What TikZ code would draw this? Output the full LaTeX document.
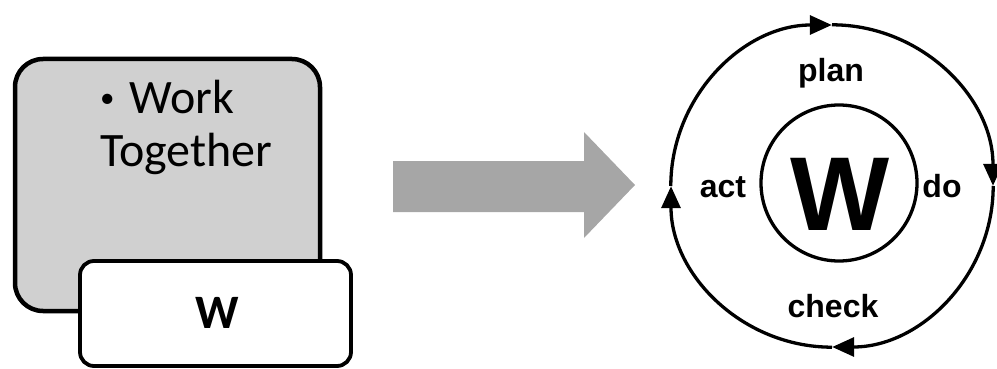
\documentclass[tikz,border=0pt]{standalone}
\usepackage{fontspec}
\usepackage{tikz}
\usetikzlibrary{arrows.meta,positioning,calc}
\newfontfamily\carlito{Carlito}
\newfontfamily\arialsans{Liberation Sans}
\definecolor{boxgray}{HTML}{D0D0D0}
\definecolor{arrowgray}{HTML}{A6A6A6}

\begin{document}
\begin{tikzpicture}[x=1pt,y=1pt,
    cardbox/.style={draw, rounded corners=28pt, inner sep=0pt},
    cyclearc/.style={line width=3.3pt, -{Triangle[length=22pt,width=19pt]}},
    cyclelabel/.style={anchor=base, inner sep=0pt, font=\arialsans\bfseries\fontsize{32}{38}\selectfont}]
        \useasboundingbox (0,0) rectangle (997,-369);
        % left card with the tab on top of it
        \node[cardbox, fill=boxgray, line width=4.5pt, minimum width=305pt, minimum height=252pt] (card) at (167.5,-185) {};
        \node[anchor=north west, inner sep=0pt, align=left, font=\carlito\fontsize{48}{53}\selectfont] (cardtext) at (100,-80) {\raisebox{6pt}{\fontsize{29}{29}\selectfont\textbullet}\hspace{15pt}Work\\Together};
        \node[cardbox, fill=white, line width=3.8pt, rounded corners=14pt, minimum width=271pt, minimum height=105pt] (tab) at (215.5,-313.5) {};
        \node[anchor=base, inner sep=0pt, font=\carlito\bfseries\fontsize{48}{53}\selectfont] (tabtext) at (217,-328) {W};
        % big arrow
        \fill[arrowgray] (393,-161) -- (584,-161) -- (584,-132) -- (635,-185) -- (584,-238) -- (584,-212) -- (393,-212) -- cycle;
        % cycle
        \node[circle, minimum size=322pt, inner sep=0pt] (cycle) at (832,-186) {};
        \node[circle, draw, line width=3.3pt, minimum size=156pt, inner sep=0pt] (core) at (839,-183) {};
        \node[anchor=base, inner sep=0pt, font=\arialsans\bfseries\fontsize{105}{110}\selectfont] (corew) at (840,-230) {W};
        \draw[cyclearc] (cycle.west) arc[start angle=180, end angle=90, radius=161pt];
        \draw[cyclearc] (cycle.north) arc[start angle=90, end angle=0, radius=161pt];
        \draw[cyclearc] (cycle.east) arc[start angle=0, end angle=-90, radius=161pt];
        \draw[cyclearc] (cycle.south) arc[start angle=-90, end angle=-180, radius=161pt];
        \node[cyclelabel] (plan) at (831,-82) {plan};
        \node[cyclelabel] (act) at (723,-197) {act};
        \node[cyclelabel] (do) at (942,-197) {do};
        \node[cyclelabel] (check) at (833,-317) {check};
      \end{tikzpicture}
\end{document}
